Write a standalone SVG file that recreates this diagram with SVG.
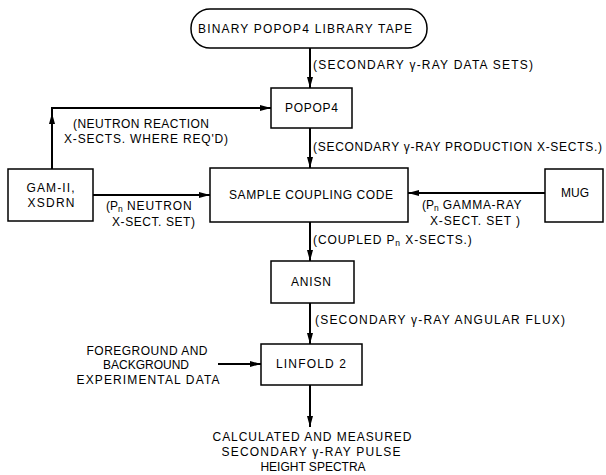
<svg xmlns="http://www.w3.org/2000/svg" width="606" height="475" viewBox="0 0 606 475">
<defs>
<marker id="arr" markerUnits="userSpaceOnUse" markerWidth="11" markerHeight="6" viewBox="0 0 11 6" refX="11" refY="3" orient="auto">
<path d="M0,0 L11,3 L0,6 z" fill="#000"/>
</marker>
<style>
text{font-family:"Liberation Sans",Arial,sans-serif;font-size:12px;fill:#000;}
.box{fill:#fff;stroke:#000;stroke-width:1.5;}
.c{fill:none;stroke:#000;stroke-width:2;}
.a{marker-end:url(#arr);}
.m{text-anchor:middle;}
.sub{font-size:8.5px;}
</style>
</defs>
<rect width="606" height="475" fill="#fff"/>

<g id="connectors">
<path class="c a" d="M310,48 V88"/>
<path class="c a" d="M310,128 V168"/>
<path class="c a" d="M310,222 V261"/>
<path class="c a" d="M310,303 V344"/>
<path class="c a" d="M310,385 V427"/>
<path class="c a" d="M52,169 V108 H271"/>
<path class="c a" d="M52,140 V113"/>
<path class="c a" d="M93,195 H210"/>
<path class="c a" d="M545,193 H408"/>
<path class="c a" d="M218,364 H261"/>
</g>

<g id="tape">
<rect class="box" x="191" y="9" width="236" height="39" rx="19" ry="19"/>
<text x="198" y="33" textLength="214" lengthAdjust="spacing">BINARY POPOP4 LIBRARY TAPE</text>
</g>

<g id="popop4">
<rect class="box" x="271" y="88" width="81" height="40"/>
<text x="311.5" y="112" class="m" textLength="53" lengthAdjust="spacing">POPOP4</text>
</g>

<g id="sample">
<rect class="box" x="210" y="168" width="198" height="54"/>
<text x="311" y="199" class="m" textLength="164" lengthAdjust="spacing">SAMPLE COUPLING CODE</text>
</g>

<g id="gam">
<rect class="box" x="8" y="169" width="85" height="52"/>
<text x="50.5" y="192" class="m" textLength="48" lengthAdjust="spacing">GAM-II,</text>
<text x="51" y="207" class="m" textLength="47" lengthAdjust="spacing">XSDRN</text>
</g>

<g id="mug">
<rect class="box" x="545" y="169" width="58" height="53"/>
<text x="575" y="197" class="m">MUG</text>
</g>

<g id="anisn">
<rect class="box" x="271" y="261" width="83" height="42"/>
<text x="311" y="286" class="m" textLength="40" lengthAdjust="spacing">ANISN</text>
</g>

<g id="linfold">
<rect class="box" x="261" y="344" width="101" height="41"/>
<text x="311" y="368" class="m" textLength="70" lengthAdjust="spacing">LINFOLD 2</text>
</g>

<g id="labels">
<text x="313" y="69" textLength="220" lengthAdjust="spacing">(SECONDARY γ-RAY DATA SETS)</text>
<text x="73" y="128" textLength="136" lengthAdjust="spacing">(NEUTRON REACTION</text>
<text x="64" y="143" textLength="164" lengthAdjust="spacing">X-SECTS. WHERE REQ'D)</text>
<text x="313" y="151" textLength="289" lengthAdjust="spacing">(SECONDARY γ-RAY PRODUCTION X-SECTS.)</text>
<text x="106" y="210">(P<tspan class="sub" dy="2">n</tspan><tspan dy="-2" letter-spacing="0.9"> NEUTRON</tspan></text>
<text x="112" y="226" textLength="83" lengthAdjust="spacing">X-SECT. SET)</text>
<text x="422" y="209">(P<tspan class="sub" dy="2">n</tspan><tspan dy="-2" letter-spacing="0.7"> GAMMA-RAY</tspan></text>
<text x="430" y="225" textLength="90" lengthAdjust="spacing">X-SECT. SET )</text>
<text x="313" y="244" letter-spacing="0.9">(COUPLED P<tspan class="sub" dy="2">n</tspan><tspan dy="-2"> X-SECTS.)</tspan></text>
<text x="315" y="324" textLength="250" lengthAdjust="spacing">(SECONDARY γ-RAY ANGULAR FLUX)</text>
<text x="147" y="355" class="m" textLength="121" lengthAdjust="spacing">FOREGROUND AND</text>
<text x="146" y="369" class="m">BACKGROUND</text>
<text x="148" y="384" class="m" textLength="143" lengthAdjust="spacing">EXPERIMENTAL DATA</text>
<text x="312" y="441" class="m" textLength="199" lengthAdjust="spacing">CALCULATED AND MEASURED</text>
<text x="311" y="456" class="m" textLength="179" lengthAdjust="spacing">SECONDARY γ-RAY PULSE</text>
<text x="313" y="471" class="m">HEIGHT  SPECTRA</text>
</g>
</svg>
